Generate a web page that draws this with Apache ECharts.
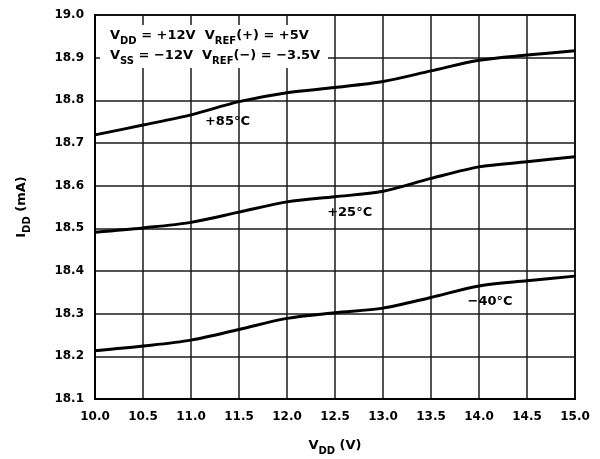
<!DOCTYPE html>
<html>
<head>
<meta charset="utf-8">
<script src="https://cdn.jsdelivr.net/npm/echarts@6/dist/echarts.min.js"></script>
<style>html,body{margin:0;padding:0;background:#fff}#c{width:600px;height:459px}</style>
</head>
<body>
<div id="c"></div>
<script>
const vdd = [10.0, 10.5, 11.0, 11.5, 12.0, 12.5, 13.0, 13.5, 14.0, 14.5, 15.0];
const idd85 = [18.719, 18.742, 18.766, 18.797, 18.818, 18.830, 18.844, 18.869, 18.894, 18.906, 18.916];
const idd25 = [18.491, 18.501, 18.514, 18.538, 18.562, 18.574, 18.587, 18.617, 18.644, 18.656, 18.668];
const iddM40 = [18.213, 18.224, 18.238, 18.263, 18.289, 18.302, 18.313, 18.338, 18.365, 18.377, 18.388];
const seriesNames = ['+85°C', '+25°C', '\u221240°C'];
const labelAnchors = [[11.38, 18.749], [12.653, 18.537], [14.115, 18.329]];

const FONT = 'DejaVu Sans';
const chart = echarts.init(document.getElementById('c'), null, {renderer: 'canvas'});
const allData = [idd85, idd25, iddM40];
const series = allData.map((arr, i) => ({
  name: seriesNames[i],
  type: 'line',
  data: vdd.map((x, j) => [x, arr[j]]),
  smooth: 0.3,
  showSymbol: false,
  lineStyle: {color: '#000', width: 3},
  z: 5,
  markPoint: {
    symbol: 'circle', symbolSize: 0,
    data: [{coord: labelAnchors[i], value: seriesNames[i]}],
    label: {show: true, position: 'inside', formatter: seriesNames[i], color: '#000',
      fontFamily: FONT, fontWeight: 'bold', fontSize: 13}
  }
}));
const sub = {fontFamily: FONT, fontWeight: 'bold', fontSize: 10, lineHeight: 17, verticalAlign: 'bottom', color: '#000'};
const base = {fontFamily: FONT, fontWeight: 'bold', fontSize: 13, lineHeight: 14, verticalAlign: 'top', color: '#000'};
chart.setOption({
  animation: false,
  grid: {left: 95, right: 25, top: 15, bottom: 60, show: true, borderColor: '#000', borderWidth: 2,
    containLabel: false, outerBoundsMode: 'none'},
  xAxis: {
    type: 'value', min: 10, max: 15, interval: 0.5,
    name: '{b|V}{s|DD}{b| (V)}', nameLocation: 'middle', nameGap: 40,
    nameTextStyle: {rich: {b: base, s: sub}},
    axisLine: {show: true, lineStyle: {color: '#000', width: 2}},
    axisTick: {show: false},
    axisLabel: {color: '#000', fontFamily: FONT, fontWeight: 'bold', fontSize: 12, margin: 12,
      formatter: v => v.toFixed(1)},
    splitLine: {show: true, lineStyle: {color: '#1a1a1a', width: 1.5}}
  },
  yAxis: {
    type: 'value', min: 18.1, max: 19.0, interval: 0.1,
    name: '{b|I}{s|DD}{b| (mA)}', nameLocation: 'middle', nameGap: 63,
    nameTextStyle: {rich: {b: base, s: sub}},
    axisLine: {show: true, lineStyle: {color: '#000', width: 2}},
    axisTick: {show: false},
    axisLabel: {color: '#000', fontFamily: FONT, fontWeight: 'bold', fontSize: 12, margin: 11,
      formatter: v => v.toFixed(1)},
    splitLine: {show: true, lineStyle: {color: '#1a1a1a', width: 1.5}}
  },
  graphic: [
    {type: 'rect', z: 50, shape: {x: 100, y: 25, width: 228, height: 43}, style: {fill: '#fff'}},
    {type: 'text', z: 51, x: 110, y: 29, style: {
      text: '{b|V}{s|DD}{b| = +12V  V}{s|REF}{b|(+) = +5V}', rich: {b: base, s: sub}
    }},
    {type: 'text', z: 51, x: 110, y: 49, style: {
      text: '{b|V}{s|SS}{b| = \u221212V  V}{s|REF}{b|(\u2212) = \u22123.5V}', rich: {b: base, s: sub}
    }}
  ],
  series: series
});
</script>
</body>
</html>
